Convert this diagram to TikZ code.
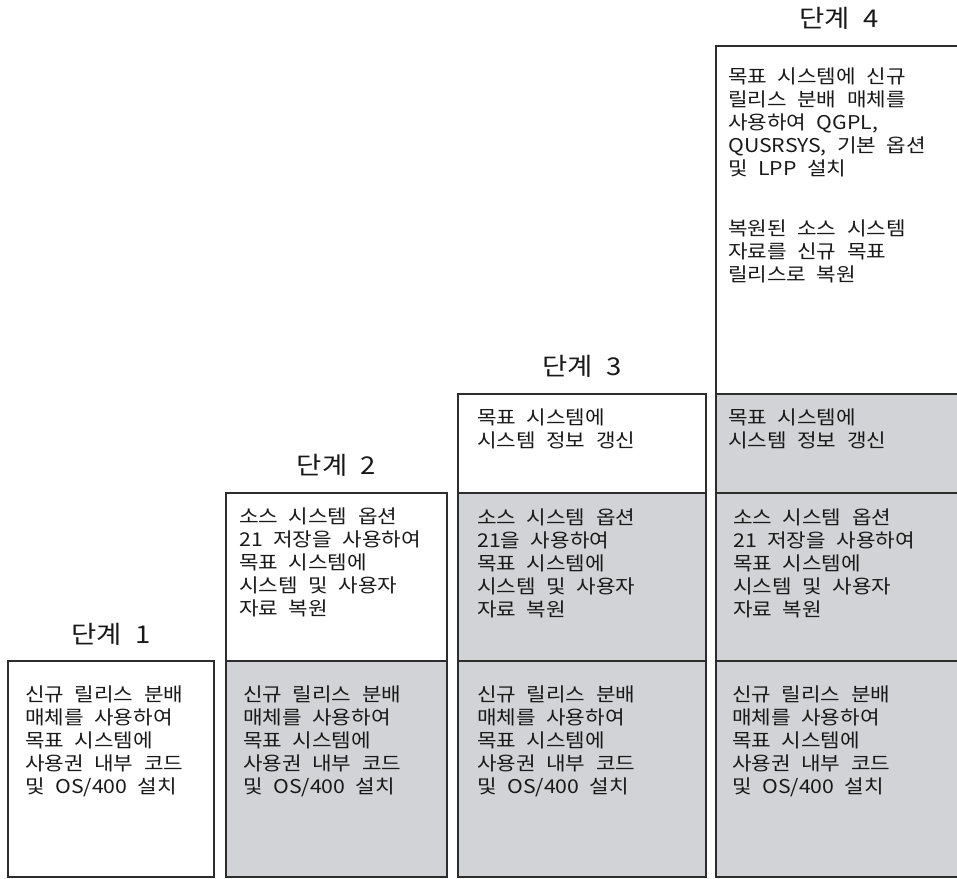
\documentclass[tikz,border=0pt]{standalone}
\usepackage{fontspec}
\setmainfont[WordSpace=2.2, FakeStretch=1.12]{Noto Sans CJK KR}
\usepackage{tikz}
\usetikzlibrary{positioning}
\definecolor{colTrait}{RGB}{45,45,45}
\definecolor{colGris}{RGB}{210,211,214}
\definecolor{colTexte}{RGB}{25,25,25}

\begin{document}
\begin{tikzpicture}[x=1pt, y=1pt,
    cel/.style={rectangle, draw=colTrait, line width=1.3pt, fill=white,
      inner sep=0pt, outer sep=0pt},
    gr/.style={cel, fill=colGris},
    tx/.style={inner sep=0pt, align=left, text=colTexte,
      font=\fontsize{19}{23}\selectfont},
    ti/.style={inner sep=0pt, text=colTexte,
      font=\fontsize{24.5}{27}\selectfont}]
    \useasboundingbox (0,0) rectangle (957,878);
    \node[cel, anchor=south west, minimum width=206pt, minimum height=216pt]
      (c1a) at (8,1) {};
    \node[gr, anchor=south west, minimum width=221pt, minimum height=216pt]
      (c2a) at (226,1) {};
    \node[cel, above=0pt of c2a, minimum width=221pt, minimum height=168pt]
      (c2b) {};
    \node[gr, anchor=south west, minimum width=248pt, minimum height=216pt]
      (c3a) at (458,1) {};
    \node[gr, above=0pt of c3a, minimum width=248pt, minimum height=168pt]
      (c3b) {};
    \node[cel, above=0pt of c3b, minimum width=248pt, minimum height=99pt]
      (c3c) {};
    \node[gr, anchor=south west, minimum width=270pt, minimum height=216pt]
      (c4a) at (716,1) {};
    \node[gr, above=0pt of c4a, minimum width=270pt, minimum height=168pt]
      (c4b) {};
    \node[gr, above=0pt of c4b, minimum width=270pt, minimum height=99pt]
      (c4c) {};
    \node[cel, above=0pt of c4c, minimum width=270pt, minimum height=348pt]
      (c4d) {};

    \node[ti, above=15pt of c1a] (t1) {단계 1};
    \node[ti, above=16pt of c2b] (t2) {단계 2};
    \node[ti, above=16pt of c3c] (t3) {단계 3};
    \node[ti, above=16pt of c4d, xshift=-12pt] (t4) {단계 4};

    \node[tx, anchor=north west, below right=25pt and 17pt of c1a.north west] (x1a)
      {신규 릴리스 분배\\매체를 사용하여\\목표 시스템에\\사용권 내부 코드\\및 OS/400 설치};
    \node[tx, anchor=north west, below right=25pt and 17pt of c2a.north west] (x2a)
      {신규 릴리스 분배\\매체를 사용하여\\목표 시스템에\\사용권 내부 코드\\및 OS/400 설치};
    \node[tx, anchor=north west, below right=15pt and 13pt of c2b.north west] (x2b)
      {소스 시스템 옵션\\21 저장을 사용하여\\목표 시스템에\\시스템 및 사용자\\자료 복원};
    \node[tx, anchor=north west, below right=25pt and 19pt of c3a.north west] (x3a)
      {신규 릴리스 분배\\매체를 사용하여\\목표 시스템에\\사용권 내부 코드\\및 OS/400 설치};
    \node[tx, anchor=north west, below right=16pt and 19pt of c3b.north west] (x3b)
      {소스 시스템 옵션\\21을 사용하여\\목표 시스템에\\시스템 및 사용자\\자료 복원};
    \node[tx, anchor=north west, below right=15pt and 19pt of c3c.north west] (x3c)
      {목표 시스템에\\시스템 정보 갱신};
    \node[tx, anchor=north west, below right=25pt and 16pt of c4a.north west] (x4a)
      {신규 릴리스 분배\\매체를 사용하여\\목표 시스템에\\사용권 내부 코드\\및 OS/400 설치};
    \node[tx, anchor=north west, below right=16pt and 17pt of c4b.north west] (x4b)
      {소스 시스템 옵션\\21 저장을 사용하여\\목표 시스템에\\시스템 및 사용자\\자료 복원};
    \node[tx, anchor=north west, below right=15pt and 12pt of c4c.north west] (x4c)
      {목표 시스템에\\시스템 정보 갱신};
    \node[tx, anchor=north west, below right=22pt and 12pt of c4d.north west] (x4d)
      {목표 시스템에 신규\\릴리스 분배 매체를\\사용하여 QGPL,\\QUSRSYS, 기본 옵션\\및 LPP 설치\\[37pt]
       복원된 소스 시스템\\자료를 신규 목표\\릴리스로 복원};
  \end{tikzpicture}
\end{document}
